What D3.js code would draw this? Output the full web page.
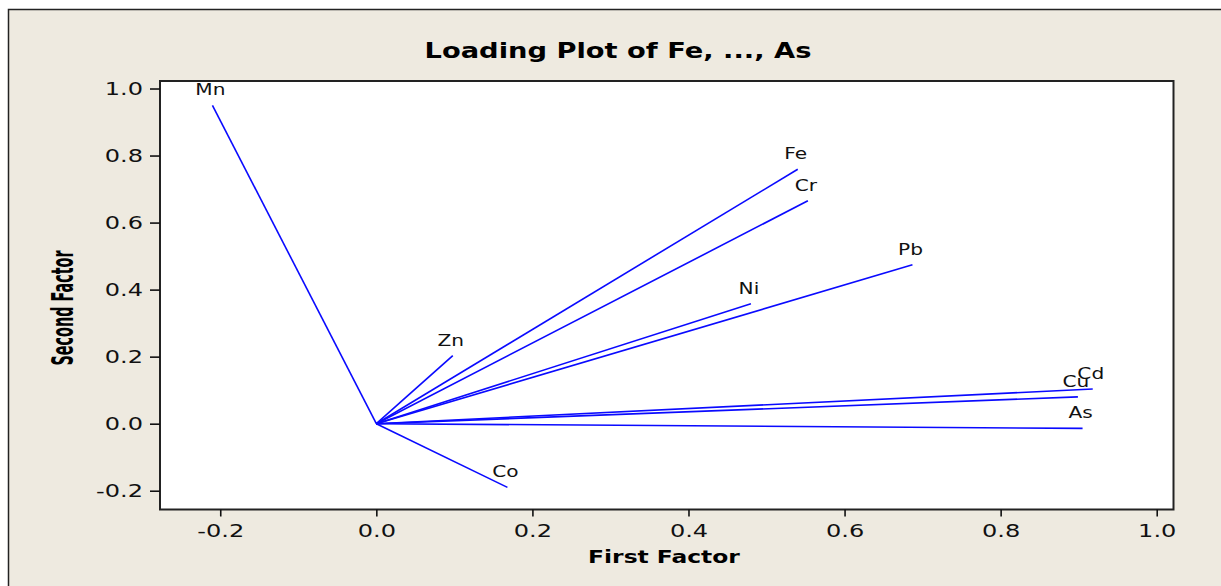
<!DOCTYPE html>
<html>
<head>
<meta charset="utf-8">
<script src="https://cdn.jsdelivr.net/npm/d3@7"></script>
<style>
  body { margin: 0; background: #fff; }
  svg { display: block; font-family: "DejaVu Sans", Verdana, sans-serif; }
</style>
</head>
<body>
<div id="chart"></div>
<script>
// loadings
const variables = ["Fe", "Mn", "Zn", "Cu", "Co", "Cd", "Cr", "Ni", "Pb", "As"];
const factor1 = [0.54, -0.21, 0.098, 0.899, 0.168, 0.918, 0.553, 0.48, 0.687, 0.905];
const factor2 = [0.759, 0.95, 0.203, 0.08, -0.19, 0.1035, 0.665, 0.358, 0.474, -0.014];
const xTicks = [-0.2, 0.0, 0.2, 0.4, 0.6, 0.8, 1.0];
const yTicks = [-0.2, 0.0, 0.2, 0.4, 0.6, 0.8, 1.0];

const data = variables.map((v, i) => ({name: v, f1: factor1[i], f2: factor2[i]}));

const width = 1221;
const height = 586;
const plot = {left: 160, right: 1173.5, top: 81, bottom: 509.5};
const sx = 1.3; // the picture's text is stretched sideways

const svg = d3.create("svg")
  .attr("width", width)
  .attr("height", height);

// outer frame
svg.append("rect")
  .attr("x", 8.5).attr("y", 9.5)
  .attr("width", 1230).attr("height", 600)
  .attr("fill", "#eeeae0")
  .attr("stroke", "#222").attr("stroke-width", 1.5);

// scales
const x = d3.scaleLinear().domain([-0.2772, 1.0215]).range([plot.left, plot.right]);
const y = d3.scaleLinear().domain([-0.256, 1.0224]).range([plot.bottom, plot.top]);

// plot area
svg.append("rect")
  .attr("x", plot.left).attr("y", plot.top)
  .attr("width", plot.right - plot.left).attr("height", plot.bottom - plot.top)
  .attr("fill", "#fff");

// vectors
svg.append("g")
  .selectAll("line")
  .data(data)
  .join("line")
  .attr("x1", x(0)).attr("y1", y(0))
  .attr("x2", d => x(d.f1)).attr("y2", d => y(d.f2))
  .attr("stroke", "#0a0aff")
  .attr("stroke-width", 1.6);

svg.append("g")
  .selectAll("text")
  .data(data)
  .join("text")
  .attr("transform", d => `translate(${x(d.f1) - 2},${y(d.f2) - 10}) scale(${sx},1)`)
  .attr("text-anchor", "middle")
  .attr("font-size", "15.5px")
  .attr("fill", "#111")
  .text(d => d.name);

// plot border
svg.append("rect")
  .attr("x", plot.left).attr("y", plot.top)
  .attr("width", plot.right - plot.left).attr("height", plot.bottom - plot.top)
  .attr("fill", "none")
  .attr("stroke", "#222").attr("stroke-width", 2);

// axes
const fmt = d => d.toFixed(1);

const gx = svg.append("g")
  .attr("transform", `translate(0,${plot.bottom})`)
  .call(d3.axisBottom(x).tickValues(xTicks).tickFormat(fmt).tickSize(7).tickSizeOuter(0).tickPadding(7));
gx.select(".domain").remove();
gx.selectAll(".tick line").attr("stroke", "#111").attr("stroke-width", 1.6);
gx.selectAll(".tick text")
  .attr("font-size", "18.5px")
  .attr("font-family", "DejaVu Sans, Verdana, sans-serif")
  .attr("fill", "#111")
  .attr("dy", "0.72em")
  .attr("transform", `scale(${sx},1)`);

const gy = svg.append("g")
  .attr("transform", `translate(${plot.left},0)`)
  .call(d3.axisLeft(y).tickValues(yTicks).tickFormat(fmt).tickSize(10).tickSizeOuter(0).tickPadding(6));
gy.select(".domain").remove();
gy.selectAll(".tick line").attr("stroke", "#111").attr("stroke-width", 1.6);
gy.selectAll(".tick text")
  .attr("font-size", "18.5px")
  .attr("font-family", "DejaVu Sans, Verdana, sans-serif")
  .attr("fill", "#111")
  .attr("x", -17 / sx)
  .attr("transform", `scale(${sx},1)`);

// title
svg.append("text")
  .attr("transform", `translate(618,58) scale(${sx},1)`)
  .attr("text-anchor", "middle")
  .attr("font-size", "21px")
  .attr("font-weight", "bold")
  .attr("fill", "#000")
  .text("Loading Plot of Fe, ..., As");

// x axis title
svg.append("text")
  .attr("transform", `translate(664,563) scale(${sx},1)`)
  .attr("text-anchor", "middle")
  .attr("font-size", "18px")
  .attr("font-weight", "bold")
  .attr("fill", "#000")
  .text("First Factor");

// y axis title
svg.append("text")
  .attr("transform", "translate(72.5,308) rotate(-90) scale(0.72,1.5)")
  .attr("text-anchor", "middle")
  .attr("font-size", "20px")
  .attr("font-weight", "bold")
  .attr("fill", "#000")
  .text("Second Factor");

document.getElementById("chart").appendChild(svg.node());
</script>
</body>
</html>
